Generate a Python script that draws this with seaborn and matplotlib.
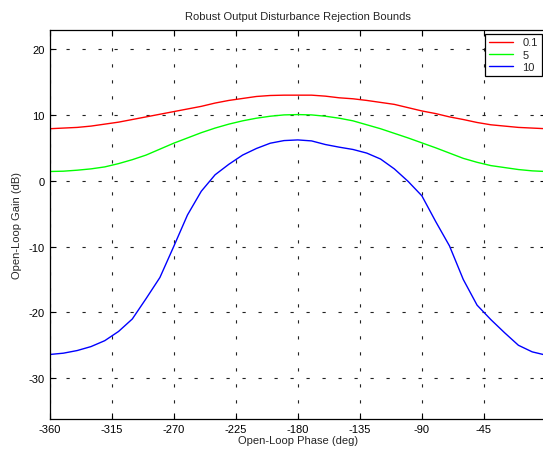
import numpy as np
import pandas as pd
import matplotlib
matplotlib.use("Agg")
import matplotlib.pyplot as plt
import seaborn as sns

# open-loop phase grid (deg)
phase = [-360, -350, -340, -330, -320, -310, -300, -290, -280, -270, -260, -250, -240,
         -230, -220, -210, -200, -190, -180, -170, -160, -150, -140, -130, -120,
         -110, -100, -90, -80, -70, -60, -50, -40, -30, -20, -10, 0]

# open-loop gain bounds (dB), one per frequency
gain_01 = [7.9, 8.0, 8.1, 8.3, 8.6, 8.9, 9.3, 9.7, 10.1, 10.5, 10.9, 11.3, 11.8,
           12.2, 12.5, 12.8, 12.95, 13.0, 13.0, 13.0, 12.85, 12.6, 12.45, 12.2, 11.9,
           11.6, 11.1, 10.6, 10.2, 9.7, 9.3, 8.85, 8.5, 8.3, 8.1, 8.0, 7.9]
gain_5 = [1.4, 1.45, 1.6, 1.8, 2.1, 2.6, 3.2, 3.9, 4.8, 5.7, 6.5, 7.3, 8.0,
          8.6, 9.1, 9.5, 9.8, 10.0, 10.05, 10.0, 9.8, 9.5, 9.1, 8.5, 7.9,
          7.2, 6.5, 5.75, 5.0, 4.2, 3.4, 2.8, 2.3, 2.0, 1.7, 1.5, 1.4]
gain_10 = [-26.4, -26.2, -25.8, -25.2, -24.3, -22.9, -21.0, -17.9, -14.7, -10.0, -5.2, -1.6, 0.9,
           2.5, 3.9, 4.9, 5.7, 6.1, 6.2, 6.05, 5.5, 5.1, 4.75, 4.2, 3.3,
           1.8, -0.1, -2.3, -6.2, -9.9, -15.0, -18.9, -21.1, -23.1, -25.0, -26.0, -26.5]

freqs = ["0.1", "5", "10"]
colors = ["#ff0000", "#00ff00", "#0000ff"]

df = pd.concat([
    pd.DataFrame({"phase": phase, "gain": g, "freq": f})
    for f, g in zip(freqs, [gain_01, gain_5, gain_10])
], ignore_index=True)

sns.set_style("ticks")
plt.rcParams["font.family"] = ["Liberation Sans", "DejaVu Sans"]
plt.rcParams["font.size"] = 8
plt.rcParams["axes.unicode_minus"] = False

fig = plt.figure(figsize=(5.43, 4.52), dpi=100)
ax = fig.add_axes([49.6 / 543, 1 - 420 / 452, (546 - 49.6) / 543, (420 - 31) / 452])

sns.lineplot(data=df, x="phase", y="gain", hue="freq", hue_order=freqs,
             palette=colors, sort=False, estimator=None, linewidth=1.0, ax=ax)

ax.set_xlim(-360, 0)
ax.set_ylim(-36.2, 22.9)
ax.set_xticks(np.arange(-360, 0, 45))
ax.set_yticks(np.arange(-30, 21, 10))
ax.tick_params(direction="in", length=4, width=0.8, top=True, right=True,
               labelsize=8, colors="k", pad=3.5)
for s in ax.spines.values():
    s.set_linewidth(0.9)
    s.set_color("k")

ax.grid(True, color="#222222", linestyle=(0, (2.9, 11.5)), linewidth=0.8)
ax.set_axisbelow(True)

ax.set_title("Robust Output Disturbance Rejection Bounds", fontsize=8, pad=8)
ax.set_xlabel("Open-Loop Phase (deg)", fontsize=8, labelpad=0.5)
ax.set_ylabel("Open-Loop Gain (dB)", fontsize=8, labelpad=5)

leg = ax.legend(loc="upper right", bbox_to_anchor=(0.991, 0.991), borderaxespad=0,
                fancybox=False, framealpha=1, edgecolor="k", fontsize=8,
                handlelength=2.2, handletextpad=0.8, labelspacing=0.2, borderpad=0.35)
leg.get_frame().set_linewidth(0.9)

fig.savefig("out.png", dpi=100)
